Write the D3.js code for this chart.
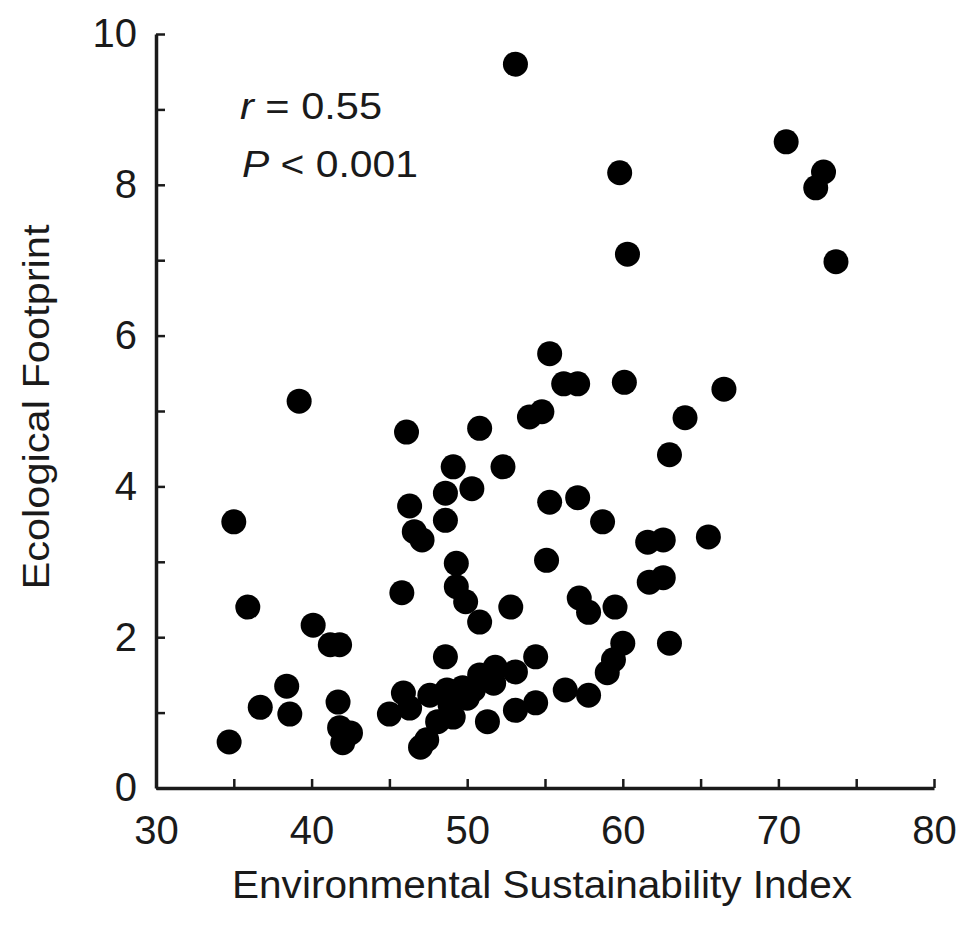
<!DOCTYPE html>
<html>
<head>
<meta charset="utf-8">
<script src="https://cdn.jsdelivr.net/npm/d3@7"></script>
<style>
  html, body { margin: 0; padding: 0; background: #fff; }
  svg { display: block; }
  text { font-family: Arial, "Liberation Sans", sans-serif; fill: #1a1a1a; }
</style>
</head>
<body>
<script>
// Environmental Sustainability Index (x) vs Ecological Footprint (y)
const esi = [53.1,70.5,72.9,72.4,59.8,60.3,73.7,55.3,56.2,57.1,60.1,66.5,54.0,54.8,64.0,
  39.2,46.1,35.0,46.3,46.6,47.1,45.8,35.9,40.1,41.2,41.8,38.4,36.7,38.6,41.7,
  41.8,42.5,42.0,34.7,45.9,46.3,45.0,47.0,47.4,50.8,63.0,49.1,52.3,48.6,50.3,
  48.6,55.3,57.1,58.7,61.6,62.6,65.5,49.3,55.1,49.3,49.9,50.8,52.8,57.2,57.8,
  59.5,61.7,62.6,48.6,54.4,60.0,59.4,59.0,63.0,47.6,48.7,49.7,48.9,48.1,49.1,
  50.0,50.8,51.8,51.7,53.1,50.4,51.3,53.1,54.4,56.3,57.8];
const footprint = [9.60,8.57,8.17,7.96,8.16,7.08,6.98,5.76,5.36,5.36,5.38,5.29,4.92,4.99,4.91,
  5.13,4.72,3.53,3.74,3.40,3.29,2.59,2.40,2.16,1.90,1.90,1.35,1.07,0.98,1.14,
  0.80,0.73,0.60,0.61,1.26,1.06,0.98,0.54,0.64,4.77,4.42,4.26,4.26,3.91,3.97,
  3.55,3.79,3.85,3.53,3.26,3.29,3.33,2.98,3.02,2.67,2.47,2.20,2.40,2.52,2.33,
  2.40,2.73,2.79,1.74,1.74,1.92,1.70,1.53,1.92,1.23,1.30,1.33,1.10,0.88,0.94,
  1.19,1.50,1.60,1.39,1.54,1.30,0.88,1.03,1.13,1.30,1.23];
const xTicks = [30,35,40,45,50,55,60,65,70,75,80];
const yTicks = [0,1,2,3,4,5,6,7,8,9,10];
const xTitle = "Environmental Sustainability Index";
const yTitle = "Ecological Footprint";
const statR = "0.55";
const statP = "0.001";

const W = 958, H = 941;
const svg = d3.select("body").append("svg").attr("width", W).attr("height", H);

const x = d3.scaleLinear().domain([30, 80]).range([156, 934]);
const y = d3.scaleLinear().domain([0, 10]).range([788, 34]);

const axisColor = "#1a1a1a";

const xAxis = d3.axisBottom(x).tickValues(xTicks).tickSizeInner(-9).tickSizeOuter(0)
  .tickPadding(28).tickFormat(d => d % 10 === 0 ? d : "");
const gx = svg.append("g").attr("transform", `translate(0,${y(0)})`).call(xAxis);
gx.select(".domain").attr("stroke", axisColor).attr("stroke-width", 3.5);
gx.selectAll(".tick line").attr("stroke", axisColor).attr("stroke-width", 2.5);
gx.selectAll(".tick text").attr("font-size", 40).attr("fill", axisColor)
  .attr("font-family", "Arial, 'Liberation Sans', sans-serif");

const yAxis = d3.axisLeft(y).tickValues(yTicks).tickSizeInner(-9).tickSizeOuter(0)
  .tickPadding(19).tickFormat(d => d % 2 === 0 ? d : "");
const gy = svg.append("g").attr("transform", `translate(${x(30)},0)`).call(yAxis);
gy.select(".domain").attr("stroke", axisColor).attr("stroke-width", 3.5);
gy.selectAll(".tick line").attr("stroke", axisColor).attr("stroke-width", 2.5);
gy.selectAll(".tick text").attr("font-size", 40).attr("fill", axisColor)
  .attr("font-family", "Arial, 'Liberation Sans', sans-serif");

// points
const pts = esi.map((v, i) => ({ x: v, y: footprint[i] }));
svg.append("g").selectAll("circle").data(pts).join("circle")
  .attr("cx", d => x(d.x)).attr("cy", d => y(d.y)).attr("r", 12.5)
  .attr("fill", "#000");

// axis titles
svg.append("text").attr("x", 542).attr("y", 898).attr("text-anchor", "middle")
  .attr("font-size", 38).attr("textLength", 620).attr("lengthAdjust", "spacingAndGlyphs")
  .text(xTitle);
svg.append("text").attr("transform", "translate(49,407) rotate(-90)")
  .attr("text-anchor", "middle").attr("font-size", 36)
  .attr("textLength", 365).attr("lengthAdjust", "spacingAndGlyphs")
  .text(yTitle);

// annotation
const a1 = svg.append("text").attr("x", 240).attr("y", 119).attr("font-size", 36)
  .attr("textLength", 142).attr("lengthAdjust", "spacingAndGlyphs");
a1.append("tspan").attr("font-style", "italic").text("r");
a1.append("tspan").text(" = " + statR);
const a2 = svg.append("text").attr("x", 242).attr("y", 177).attr("font-size", 36)
  .attr("textLength", 176).attr("lengthAdjust", "spacingAndGlyphs");
a2.append("tspan").attr("font-style", "italic").text("P");
a2.append("tspan").text(" < " + statP);
</script>
</body>
</html>
